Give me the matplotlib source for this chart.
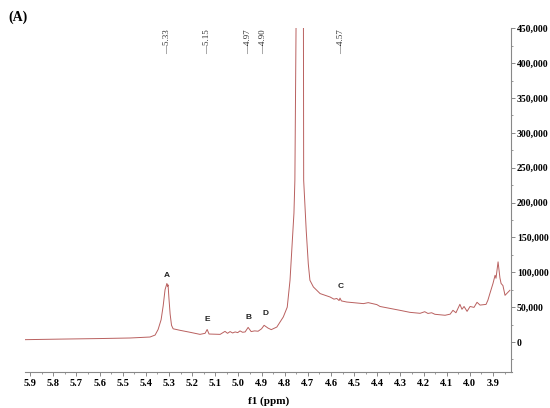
import matplotlib
matplotlib.use("Agg")
import matplotlib.pyplot as plt
import matplotlib.ticker as mticker
import matplotlib.transforms as mtransforms

# spectrum points (ppm, intensity)
ppm = [5.922, 5.77, 5.598, 5.468, 5.382, 5.36, 5.347, 5.334, 5.325, 5.317, 5.309,
       5.306, 5.304, 5.3, 5.295, 5.289, 5.282, 5.252, 5.209, 5.166, 5.144, 5.135,
       5.127, 5.079, 5.058, 5.047, 5.036, 5.025, 5.014, 5.003, 4.993, 4.982, 4.971,
       4.958, 4.945, 4.93, 4.915, 4.9, 4.889, 4.872, 4.858, 4.834, 4.806, 4.789,
       4.777, 4.76, 4.756, 4.751, 4.736, 4.719, 4.718, 4.707, 4.698, 4.691, 4.676,
       4.647, 4.604, 4.587, 4.575, 4.565, 4.561, 4.555, 4.532, 4.46, 4.439, 4.402,
       4.388, 4.302, 4.259, 4.215, 4.195, 4.181, 4.165, 4.151, 4.107, 4.085, 4.073,
       4.06, 4.043, 4.034, 4.025, 4.012, 3.999, 3.982, 3.969, 3.956, 3.93, 3.922,
       3.913, 3.9, 3.891, 3.887, 3.878, 3.87, 3.865, 3.857, 3.848, 3.835, 3.827]
intensity = [3400, 4200, 5000, 5800, 7200, 10000, 18000, 32000, 52000, 75000, 84000,
             80000, 82000, 62000, 40000, 24000, 19000, 16800, 14000, 11000, 12500, 18000,
             11500, 11000, 15300, 12500, 15000, 13000, 14500, 13500, 16000, 14000, 14500,
             21000, 15000, 16000, 15500, 19000, 24000, 20000, 17800, 21500, 36000, 50000,
             88600, 185000, 232000, 450000, 1500000, 450000, 232000, 160000, 112000, 88600, 79000,
             69500, 64600, 61500, 62500, 59500, 63000, 59000, 57400, 55100, 56500, 53700,
             51000, 45500, 42600, 41200, 43500, 41000, 42000, 39800, 38400, 40000, 45500,
             42000, 54100, 47000, 51000, 44000, 51000, 49700, 57000, 53000, 54000, 60000,
             70000, 84000, 95800, 91500, 115000, 92000, 84000, 81000, 67000, 71500, 74200]

# chemical shift labels along the top
shift_labels = ["5.33", "5.15", "4.97", "4.90", "4.57"]
shift_pos = [5.309, 5.137, 4.96, 4.892, 4.557]

# peak letters
letters = ["A", "E", "B", "D", "C"]
letter_x = [5.309, 5.135, 4.958, 4.885, 4.557]
letter_y = [91000, 28000, 30000, 36000, 74000]

line_color = "#b9605f"
serif = "Liberation Serif"

fig = plt.figure(figsize=(5.5, 4.08), dpi=100)
ax = fig.add_axes([0.0455, 0.0882, 0.8845, 0.8424])

ax.plot(ppm, intensity, color=line_color, linewidth=0.7)
ax.set_xlim(5.922, 3.82)
ax.set_ylim(-43000, 450000)

for s in ["top", "left"]:
    ax.spines[s].set_visible(False)
for s in ["bottom", "right"]:
    ax.spines[s].set_color("#888888")
    ax.spines[s].set_linewidth(0.8)

ax.yaxis.tick_right()
ax.xaxis.set_major_locator(mticker.MultipleLocator(0.1))
ax.xaxis.set_minor_locator(mticker.MultipleLocator(0.05))
ax.xaxis.set_major_formatter(mticker.FormatStrFormatter("%.1f"))
ax.yaxis.set_major_locator(mticker.MultipleLocator(50000))
ax.yaxis.set_minor_locator(mticker.MultipleLocator(25000))
ax.yaxis.set_major_formatter(mticker.FuncFormatter(lambda v, p: f"{int(v):,}"))
ax.tick_params(which="major", direction="out", length=3, width=0.7, color="#888888", pad=2)
ax.tick_params(which="minor", direction="out", length=1.5, width=0.6, color="#888888")
ax.tick_params(axis="y", which="major", pad=1)
for lab in ax.get_xticklabels():
    lab.set_fontfamily(serif)
    lab.set_fontweight("bold")
    lab.set_fontsize(7.5)
for lab in ax.get_yticklabels():
    lab.set_fontfamily(serif)
    lab.set_fontweight("bold")
    lab.set_fontsize(7)

ax.set_xlabel("f1 (ppm)", fontfamily=serif, fontweight="bold", fontsize=8, labelpad=6)

trans = mtransforms.blended_transform_factory(ax.transData, ax.transAxes)
for lab, pos in zip(shift_labels, shift_pos):
    ax.text(pos, 0.998, "\u2014" + lab, rotation=90, transform=trans, ha="center", va="top",
            fontfamily=serif, fontsize=6.5, color="#333333")

for lab, xx, yy in zip(letters, letter_x, letter_y):
    ax.text(xx, yy, lab, ha="center", va="bottom", fontfamily="Liberation Sans",
            fontsize=6, fontweight="bold", color="#222222")

fig.text(0.015, 0.975, "(A)", fontfamily=serif, fontweight="bold", fontsize=10, va="top")

fig.savefig("out.png", dpi=100)
